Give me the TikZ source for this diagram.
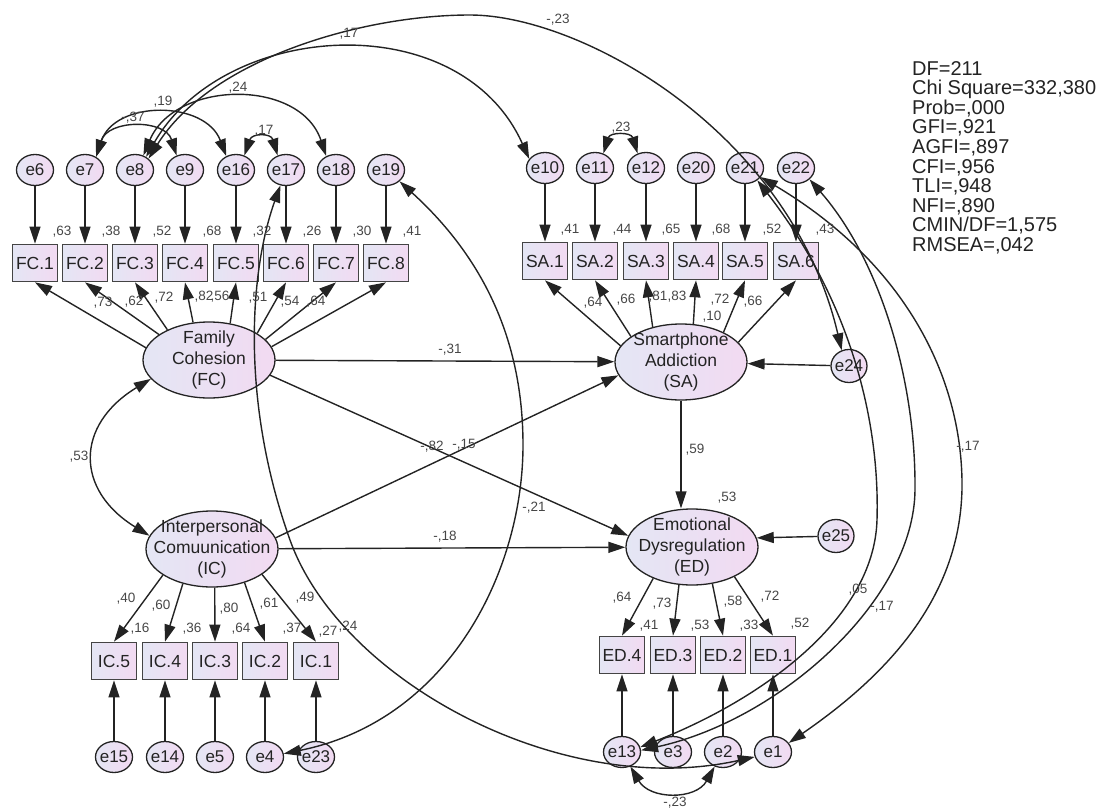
\documentclass[tikz,border=0pt]{standalone}
\usepackage{fontspec}
\setmainfont{Liberation Sans}
\usetikzlibrary{arrows.meta,shapes.geometric}
\definecolor{lavL}{RGB}{228,230,244}
\definecolor{lavR}{RGB}{242,218,242}
\definecolor{ink}{RGB}{35,35,35}
\definecolor{numc}{RGB}{70,70,70}
\newcommand{\etxt}[1]{\makebox[18pt]{#1}}
\begin{document}
\begin{tikzpicture}[x=1pt,y=-1pt,
  amtip/.tip={Triangle[length=17pt,width=11pt]},
  con/.style={line width=1.4pt, draw=ink, -amtip},
  cov/.style={line width=1.4pt, draw=ink, amtip-amtip},
  err/.style={ellipse, draw=ink, line width=1.3pt, left color=lavL, right color=lavR,
    minimum width=37pt, minimum height=31pt, inner sep=0pt, text=ink,
    font=\fontsize{17}{17}\selectfont},
  obs/.style={rectangle, draw=ink!85, line width=1.7pt, left color=lavL, right color=lavR,
    minimum width=45pt, minimum height=37pt, inner sep=0pt, text=ink,
    font=\fontsize{17.5}{17.5}\selectfont},
  lat/.style={ellipse, draw=ink, line width=1.3pt, left color=lavL, right color=lavR,
    minimum width=132pt, minimum height=76pt, inner sep=0pt},
  lattxt/.style={align=center, inner sep=0pt, text=ink, font=\fontsize{17.5}{21}\selectfont},
  num/.style={inner sep=0pt, text=numc, font=\fontsize{13.5}{13.5}\selectfont}
]
\useasboundingbox (0,0) rectangle (1101,811);

% latent variables
\node[lat] (FC) at (209,360) {};
\node[lat] (SA) at (681,362) {};
\node[lat] (IC) at (212,549) {};
\node[lat] (ED) at (692,547) {};
\node[lattxt] (FCt) at (FC) {Family\\Cohesion\\(FC)};
\node[lattxt] (SAt) at (SA) {Smartphone\\Addiction\\(SA)};
\node[lattxt] (ICt) at (IC) {Interpersonal\\Comuunication\\(IC)};
\node[lattxt] (EDt) at (ED) {Emotional\\Dysregulation\\(ED)};

% observed boxes
\foreach \i/\x in {1/35,2/85,3/135,4/185,5/236,6/286,7/336,8/386}
  \node[obs] (FC\i) at (\x,263) {FC.\i};
\foreach \i/\x in {1/545,2/595,3/646,4/696,5/745,6/796}
  \node[obs] (SA\i) at (\x,261) {SA.\i};
\foreach \i/\x in {5/114,4/165,3/215,2/265,1/316}
  \node[obs] (IC\i) at (\x,661) {IC.\i};
\foreach \i/\x in {4/622,3/673,2/723,1/773}
  \node[obs] (ED\i) at (\x,655) {ED.\i};

% error terms and their arrows
\foreach \e/\i/\x in {6/1/35,7/2/85,8/3/135,9/4/185,16/5/236,17/6/286,18/7/336,19/8/386}{
  \node[err] (e\e) at (\x,170) {\etxt{e\e}};
  \draw[con] (e\e) -- (FC\i);}
\foreach \e/\i/\x in {10/1/545,11/2/595,12/3/646,20/4/696,21/5/745,22/6/796}{
  \node[err] (e\e) at (\x,168) {\etxt{e\e}};
  \draw[con] (e\e) -- (SA\i);}
\foreach \e/\i/\x in {15/5/114,14/4/165,5/3/215,4/2/265,23/1/316}{
  \node[err] (e\e) at (\x,757) {\etxt{e\e}};
  \draw[con] (e\e) -- (IC\i);}
\foreach \e/\i/\x in {13/4/622,3/3/673,2/2/723,1/1/773}{
  \node[err] (e\e) at (\x,752) {\etxt{e\e}};
  \draw[con] (e\e) -- (ED\i);}
\node[err, minimum width=36pt, minimum height=33pt] (e24) at (849,366) {\etxt{e24}};
\node[err, minimum width=36pt, minimum height=33pt] (e25) at (836,536) {\etxt{e25}};

% loadings
\foreach \i/\a in {1/169,2/153,3/144,4/113,5/60,6/29,7/20,8/12}
  \draw[con] (FC.\a) -- (FC\i.south);
\foreach \i/\a in {1/165,2/153,3/129,4/72,5/35,6/19}
  \draw[con] (SA.\a) -- (SA\i.south);
\foreach \i/\a in {5/208,4/230,3/274,2/314,1/333}
  \draw[con] (IC.\a) -- (IC\i.north);
\foreach \i/\a in {4/219,3/251,2/299,1/325}
  \draw[con] (ED.\a) -- (ED\i.north);

% structural paths
\draw[con] (FC) -- (SA);
\draw[con] (FC.346) -- (ED.170);
\draw[con] (IC.10) -- (SA.192);
\draw[con] (IC) -- (ED);
\draw[con] (SA.south) -- (SA.south |- ED.north);
\draw[con] (e24) -- (SA);
\draw[con] (e25) -- (ED.8);

% covariances
\draw[cov] (FC.198) .. controls (75,425) and (75,490) .. (IC.168);
\draw[cov] (e7.50) .. controls (108,119) and (165,119) .. (e9.120);
\draw[cov] (e7.50) .. controls (115,100) and (205,100) .. (e16.125);
\draw[cov] (e8.60) .. controls (175,80) and (300,78) .. (e18.125);
\draw[cov] (e16.60) .. controls (252,133) and (271,133) .. (e17.120);
\draw[cov] (e11.60) .. controls (610,132) and (631,132) .. (e12.120);
\draw[cov] (e8.50) .. controls (225,20) and (460,5) .. (e10.150);
\draw[cov] (e8.40) .. controls (210,60) and (360,15) .. (470,15)
  .. controls (580,15) and (790,130) .. (e24.115);
\draw[cov] (e21.315) .. controls (850,300) and (880,420) .. (877,520)
  .. controls (874,620) and (760,700) .. (e13.15);
\draw[cov] (e22.320) .. controls (880,260) and (916,380) .. (915,490)
  .. controls (914,600) and (780,720) .. (e13.5);
\draw[cov] (e21.330) .. controls (900,260) and (960,370) .. (962,480)
  .. controls (964,600) and (880,680) .. (e1.30);
\draw[cov] (e19.320) .. controls (475,250) and (523,330) .. (523,445)
  .. controls (523,570) and (450,720) .. (e4.10);
\draw[cov] (e17.250) .. controls (250,270) and (240,400) .. (290,540)
  .. controls (340,680) and (560,800) .. (e1.195);
\draw[cov] (e13.300) .. controls (650,800) and (696,800) .. (e2.240);

% numeric labels
\foreach \t/\x/\y in {
  {,63}/62/232,{,38}/111/232,{,52}/162/232,{,68}/212/232,{,32}/262/232,{,26}/312/232,{,30}/362/232,{,41}/412/232,
  {,73}/103/303,{,62}/134/302,{,72}/164/298,{,82}/204/297,{,56}/220/297,{,51}/258/298,{,54}/290/302,{,64}/316/302,
  {,41}/570/230,{,44}/622/230,{,65}/671/230,{,68}/721/230,{,52}/772/230,{,43}/825/230,
  {,64}/593/303,{,66}/626/300,{,81}/658/297,{,83}/677/297,{,72}/720/300,{,10}/712/317,{,66}/753/302,
  {-,31}/450/350,{-,82}/432/447,{-,15}/464/445,{-,18}/445/537,{,53}/79/457,{,59}/695/450,{,53}/727/498,{-,21}/534/508,
  {,40}/126/599,{,60}/161/606,{,80}/229/609,{,61}/269/604,{,49}/305/598,
  {,16}/140/629,{,36}/192/629,{,64}/241/629,{,37}/292/629,{,27}/328/632,{,24}/348/627,
  {,64}/622/598,{,73}/662/604,{,58}/733/602,{,72}/770/597,
  {,41}/649/626,{,53}/700/626,{,33}/749/626,{,52}/800/624,
  {-,37}/133/118,{,19}/163/102,{,24}/238/88,{,17}/264/131,{,17}/349/34,{-,23}/558/20,{,23}/621/128,
  {,05}/858/590,{-,17}/882/607,{-,17}/968/447,{-,23}/675/803}
  \node[num] (lbl-\x-\y) at (\x,\y) {\t};

% fit statistics
\node[anchor=north west, align=left, inner sep=0pt, text=ink,
  font=\fontsize{20}{19.6}\selectfont] (fit) at (912,61)
  {DF=211\\Chi Square=332,380\\Prob=,000\\GFI=,921\\AGFI=,897\\CFI=,956\\TLI=,948\\NFI=,890\\CMIN/DF=1,575\\RMSEA=,042};
\end{tikzpicture}
\end{document}
